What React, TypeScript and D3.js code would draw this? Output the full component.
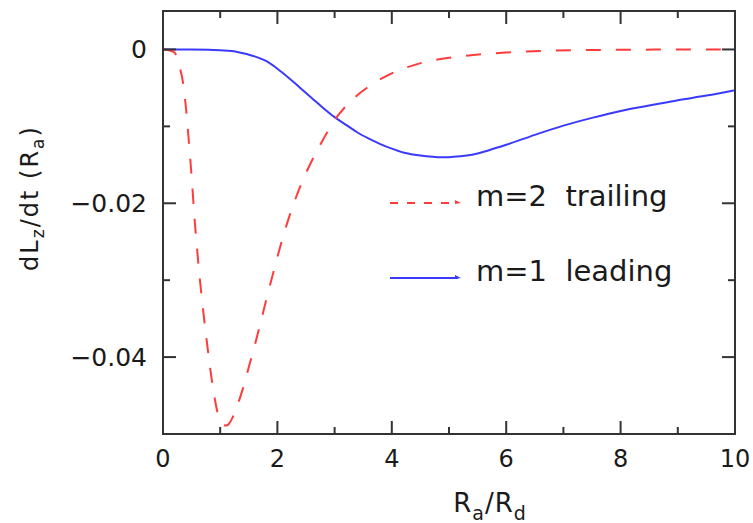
import React, { useEffect, useRef } from "react";
import * as d3 from "d3";

// Torque profiles: dLz/dt as a function of Ra/Rd
const trailingR = [0, 0.1, 0.2, 0.3, 0.35, 0.4, 0.45, 0.5, 0.55, 0.6, 0.65, 0.7, 0.75, 0.8, 0.85, 0.9, 0.95, 1.0, 1.05, 1.1, 1.15, 1.2, 1.3, 1.4, 1.5, 1.6, 1.7, 1.8, 1.9, 2.0, 2.1, 2.2, 2.4, 2.6, 2.8, 3.0, 3.3, 3.6, 4.0, 4.4, 4.8, 5.2, 5.6, 6.0, 6.6, 7.2, 8.0, 9.0, 10.0];
const trailingTorque = [0, -0.0001, -0.0004, -0.0025, -0.0043, -0.0075, -0.0118, -0.0165, -0.0218, -0.0263, -0.0303, -0.0338, -0.037, -0.04, -0.0428, -0.0452, -0.0471, -0.0483, -0.0488, -0.0489, -0.0487, -0.0481, -0.0463, -0.044, -0.0413, -0.0386, -0.0357, -0.0327, -0.0298, -0.027, -0.0243, -0.0219, -0.0178, -0.0145, -0.0117, -0.0092, -0.0066, -0.0048, -0.0031, -0.002, -0.0013, -0.0009, -0.0006, -0.0004, -0.0002, -0.0001, -0.00004, -0.00001, 0];

const leadingR = [0, 0.5, 0.8, 1.0, 1.2, 1.4, 1.6, 1.8, 2.0, 2.2, 2.4, 2.6, 2.8, 3.0, 3.2, 3.4, 3.6, 3.8, 4.0, 4.2, 4.4, 4.6, 4.8, 5.0, 5.2, 5.4, 5.7, 6.0, 6.5, 7.0, 7.5, 8.0, 8.5, 9.0, 9.5, 10.0];
const leadingTorque = [0, 0, -0.00003, -0.0001, -0.0002, -0.0005, -0.0009, -0.0015, -0.0025, -0.0037, -0.005, -0.0063, -0.0076, -0.0088, -0.0098, -0.0108, -0.0116, -0.0123, -0.0129, -0.0134, -0.0137, -0.0139, -0.014, -0.014, -0.0139, -0.0137, -0.0131, -0.0124, -0.0111, -0.0099, -0.0089, -0.008, -0.0073, -0.0066, -0.006, -0.0053];

const xMajorTicks = [0, 2, 4, 6, 8, 10];
const xMinorTicks = [1, 3, 5, 7, 9];
const yMajorTicks = [0, -0.02, -0.04];
const yMinorTicks = [-0.01, -0.03];
const yTickLabels = ["0", "\u22120.02", "\u22120.04"];

const legendLabels = ["m=2  trailing", "m=1  leading"];

const W = 753;
const H = 523;
const FONT = "'DejaVu Sans', Verdana, sans-serif";
const RED = "#ff3b3b";
const BLUE = "#3a3aff";
const AXIS = "#333";
const TEXT = "#1a1a1a";

export default function App() {
  const ref = useRef<SVGSVGElement>(null);

  useEffect(() => {
    const svg = d3.select(ref.current);
    svg.selectAll("*").remove();

    const left = 163, right = 735, top = 11, bottom = 434;
    const x = d3.scaleLinear().domain([0, 10]).range([left, right]);
    const y = d3.scaleLinear().domain([-0.05, 0.005]).range([bottom, top]);

    const g = svg.append("g");

    const line = d3
      .line<[number, number]>()
      .x((d) => x(d[0]))
      .y((d) => y(d[1]))
      .curve(d3.curveMonotoneX);

    const lead: [number, number][] = leadingR.map((r, i) => [r, leadingTorque[i]]);
    const trail: [number, number][] = trailingR.map((r, i) => [r, trailingTorque[i]]);

    g.append("path")
      .attr("d", line(lead))
      .attr("fill", "none")
      .attr("stroke", BLUE)
      .attr("stroke-width", 2);

    g.append("path")
      .attr("d", line(trail))
      .attr("fill", "none")
      .attr("stroke", RED)
      .attr("stroke-width", 2)
      .attr("stroke-dasharray", "15 15");

    // frame
    g.append("rect")
      .attr("x", left)
      .attr("y", top)
      .attr("width", right - left)
      .attr("height", bottom - top)
      .attr("fill", "none")
      .attr("stroke", AXIS)
      .attr("stroke-width", 2);

    const majorLen = 13, minorLen = 7;
    const tickG = g.append("g").attr("stroke", AXIS).attr("stroke-width", 2);
    const xTicks = [
      ...xMajorTicks.map((v) => ({ v, len: majorLen })),
      ...xMinorTicks.map((v) => ({ v, len: minorLen })),
    ];
    xTicks.forEach(({ v, len }) => {
      tickG.append("line").attr("x1", x(v)).attr("x2", x(v)).attr("y1", bottom).attr("y2", bottom - len);
      tickG.append("line").attr("x1", x(v)).attr("x2", x(v)).attr("y1", top).attr("y2", top + len);
    });
    const yTicks = [
      ...yMajorTicks.map((v) => ({ v, len: majorLen })),
      ...yMinorTicks.map((v) => ({ v, len: minorLen })),
    ];
    yTicks.forEach(({ v, len }) => {
      tickG.append("line").attr("y1", y(v)).attr("y2", y(v)).attr("x1", left).attr("x2", left + len);
      tickG.append("line").attr("y1", y(v)).attr("y2", y(v)).attr("x1", right).attr("x2", right - len);
    });

    // tick labels
    xMajorTicks.forEach((v) => {
      g.append("text")
        .attr("x", x(v))
        .attr("y", bottom + 33)
        .attr("text-anchor", "middle")
        .attr("font-family", FONT)
        .attr("font-size", 24)
        .attr("fill", TEXT)
        .text(String(v));
    });
    yMajorTicks.forEach((v, i) => {
      g.append("text")
        .attr("x", left - 16)
        .attr("y", y(v) + 9)
        .attr("text-anchor", "end")
        .attr("font-family", FONT)
        .attr("font-size", 25)
        .attr("fill", TEXT)
        .text(yTickLabels[i]);
    });

    // axis titles
    const xt = g.append("text")
      .attr("x", 490)
      .attr("y", 512)
      .attr("text-anchor", "middle")
      .attr("font-family", FONT)
      .attr("font-size", 26)
      .attr("letter-spacing", 1)
      .attr("fill", TEXT);
    xt.append("tspan").text("R");
    xt.append("tspan").attr("font-size", 19).attr("dy", 8).text("a");
    xt.append("tspan").attr("dy", -8).text("/R");
    xt.append("tspan").attr("font-size", 19).attr("dy", 8).text("d");

    const yt = g.append("text")
      .attr("transform", `translate(38,198) rotate(-90)`)
      .attr("text-anchor", "middle")
      .attr("font-family", FONT)
      .attr("font-size", 24)
      .attr("letter-spacing", 2)
      .attr("fill", TEXT);
    yt.append("tspan").text("dL");
    yt.append("tspan").attr("font-size", 17).attr("dy", 6).text("z");
    yt.append("tspan").attr("dy", -6).text("/dt (R");
    yt.append("tspan").attr("font-size", 17).attr("dy", 6).text("a");
    yt.append("tspan").attr("dy", -6).text(")");

    // legend
    const legendItems = [
      { label: legendLabels[0], color: RED, dash: "8 9", ly: 203 },
      { label: legendLabels[1], color: BLUE, dash: null, ly: 278 },
    ];
    legendItems.forEach((it) => {
      const l = g.append("line")
        .attr("x1", 390)
        .attr("x2", 458)
        .attr("y1", it.ly)
        .attr("y2", it.ly)
        .attr("stroke", it.color)
        .attr("stroke-width", 2);
      if (it.dash) l.attr("stroke-dasharray", it.dash);
      g.append("path")
        .attr("d", `M${455},${it.ly - 3} L${461},${it.ly} L${455},${it.ly + 1} Z`)
        .attr("fill", it.color);
      g.append("text")
        .attr("x", 476)
        .attr("y", it.ly + 3)
        .attr("font-family", FONT)
        .attr("font-size", 29)
        .attr("fill", TEXT)
        .style("white-space", "pre")
        .text(it.label);
    });
  }, []);

  return (
    <svg
      ref={ref}
      width={W}
      height={H}
      viewBox={`0 0 ${W} ${H}`}
      style={{ position: "absolute", left: 0, top: 0, background: "#fff" }}
    />
  );
}
